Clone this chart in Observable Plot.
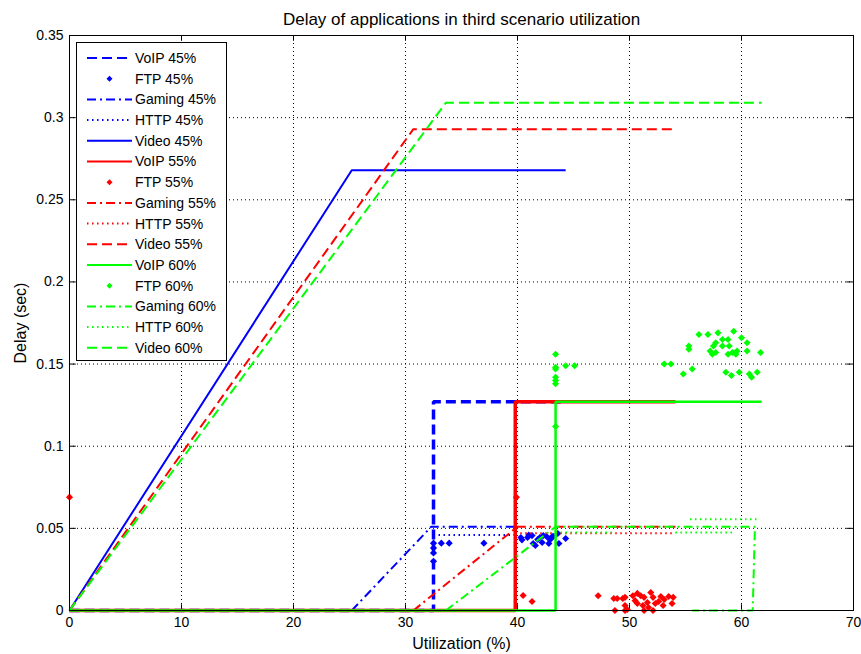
<!DOCTYPE html>
<html><head><meta charset="utf-8">
<script src="https://cdn.jsdelivr.net/npm/d3@7"></script>
<script src="https://cdn.jsdelivr.net/npm/@observablehq/plot@0.6"></script>
<style>
body{margin:0;background:#fff;font-family:"Liberation Sans",Arial,sans-serif;}
#chart svg{display:block;}
</style></head><body>
<div id="chart"></div>
<script>
// ---------- data ----------
const titleText = "Delay of applications in third scenario utilization";
const xLabel = "Utilization (%)";
const yLabel = "Delay (sec)";
const xTicks = [0, 10, 20, 30, 40, 50, 60, 70];
const yTicks = [0, 0.05, 0.1, 0.15, 0.2, 0.25, 0.3, 0.35];
const seriesNames = ["VoIP 45%","FTP 45%","Gaming 45%","HTTP 45%","Video 45%",
                     "VoIP 55%","FTP 55%","Gaming 55%","HTTP 55%","Video 55%",
                     "VoIP 60%","FTP 60%","Gaming 60%","HTTP 60%","Video 60%"];

const voip45X = [0, 32.5, 32.5, 44.3];
const voip45Y = [0, 0, 0.127, 0.127];
const ftp45X = [32.5, 32.5, 32.5, 32.5, 33.2, 33.9, 37.0, 40.3, 40.4, 40.9, 41.0, 41.3, 41.4, 41.6, 41.8, 42.0, 42.2, 42.3, 42.6, 42.8, 42.9, 43.1, 43.2, 43.6, 43.7, 44.3];
const ftp45Y = [0.041, 0.038, 0.035, 0.030, 0.041, 0.041, 0.041, 0.0444, 0.043, 0.0444, 0.046, 0.0456, 0.0408, 0.0396, 0.0432, 0.0444, 0.0414, 0.0456, 0.045, 0.0408, 0.043, 0.045, 0.045, 0.0469, 0.0408, 0.0438];
const gaming45X = [25.2, 32.3, 39.9];
const gaming45Y = [0, 0.051, 0.051];
const http45X = [32.5, 40.0];
const http45Y = [0.046, 0.046];
const video45X = [0, 25.2, 44.3];
const video45Y = [0, 0.268, 0.268];

const voip55X = [0, 39.8, 39.8, 54.1];
const voip55Y = [0, 0, 0.127, 0.127];
const ftp55X = [0, 39.9, 40.5, 41.3, 47.2, 48.6, 48.7, 48.9, 49.4, 49.6, 49.6, 49.6, 49.8, 50.3, 50.5, 50.7, 50.7, 51.0, 51.2, 51.3, 51.3, 51.6, 51.7, 51.9, 52.1, 52.1, 52.3, 52.6, 52.8, 53.0, 53.1, 53.5, 53.8, 53.9];
const ftp55Y = [0.069, 0.069, 0.0091, 0.0055, 0.009, 0.0073, 0, 0.0073, 0.0073, 0.008, 0.003, 0, 0.0006, 0.009, 0.006, 0.0104, 0.0043, 0.009, 0.003, 0.008, 0, 0.0049, 0.0018, 0.011, 0.008, 0, 0.0043, 0.0055, 0.0085, 0.003, 0.0067, 0.0085, 0.0043, 0.008];
const gaming55X = [30.7, 40.0, 54.1];
const gaming55Y = [0, 0.051, 0.051];
const http55X = [39.8, 54.1];
const http55Y = [0.047, 0.047];
const video55X = [0, 30.7, 54.1];
const video55Y = [0, 0.293, 0.293];

const voip60X = [0, 43.4, 43.4, 61.8];
const voip60Y = [0, 0, 0.127, 0.127];
const ftp60X = [43.4, 43.4, 43.4, 43.4, 43.4, 43.4, 43.4, 44.3, 45.1, 53.1, 53.7, 54.8, 55.6, 55.3, 55.3, 56.2, 57.0, 57.9, 57.7, 57.5, 58.3, 58.8, 59.3, 58.3, 58.9, 57.2, 57.4, 57.7, 58.8, 59.2, 59.6, 59.5, 60.0, 60.5, 60.5, 61.7, 58.6, 59.1, 59.8, 60.7, 60.9, 61.4];
const ftp60Y = [0.156, 0.148, 0.147, 0.142, 0.140, 0.138, 0.112, 0.149, 0.149, 0.150, 0.150, 0.144, 0.147, 0.161, 0.159, 0.168, 0.168, 0.169, 0.163, 0.161, 0.165, 0.165, 0.170, 0.161, 0.161, 0.158, 0.156, 0.157, 0.156, 0.157, 0.158, 0.156, 0.166, 0.163, 0.158, 0.157, 0.145, 0.143, 0.145, 0.144, 0.142, 0.145];
const gaming60X = [33.6, 43.4, 61.2, 61.0, 55.6];
const gaming60Y = [0, 0.051, 0.051, 0, 0];
const http60X = [43.4, 48.5, NaN, 54.1, 59.2, NaN, 55.4, 61.5];
const http60Y = [0.0475, 0.0475, NaN, 0.0475, 0.0475, NaN, 0.0555, 0.0555];
const video60X = [0, 33.6, 61.8];
const video60Y = [0, 0.309, 0.309];

// ---------- styles ----------
const BLUE = "#0000ff", RED = "#ff0000", GREEN = "#00ff00";
const DASH = "10,5", DASHDOT = "9,4,2,4", DOT = "1.5,3.5";
const toRows = (xs, ys) => xs.map((x, i) => ({x, y: Number.isNaN(ys[i]) ? undefined : ys[i]}));

const series = [
  {name: seriesNames[0],  kind: "line", xs: voip45X,   ys: voip45Y,   color: BLUE,  dash: DASH,    w: 3.5},
  {name: seriesNames[1],  kind: "dot",  xs: ftp45X,    ys: ftp45Y,    color: BLUE},
  {name: seriesNames[2],  kind: "line", xs: gaming45X, ys: gaming45Y, color: BLUE,  dash: DASHDOT, w: 2},
  {name: seriesNames[3],  kind: "line", xs: http45X,   ys: http45Y,   color: BLUE,  dash: DOT,     w: 2},
  {name: seriesNames[4],  kind: "line", xs: video45X,  ys: video45Y,  color: BLUE,  dash: null,    w: 2},
  {name: seriesNames[5],  kind: "line", xs: voip55X,   ys: voip55Y,   color: RED,   dash: null,    w: 3.5},
  {name: seriesNames[6],  kind: "dot",  xs: ftp55X,    ys: ftp55Y,    color: RED},
  {name: seriesNames[7],  kind: "line", xs: gaming55X, ys: gaming55Y, color: RED,   dash: DASHDOT, w: 2},
  {name: seriesNames[8],  kind: "line", xs: http55X,   ys: http55Y,   color: RED,   dash: DOT,     w: 2},
  {name: seriesNames[9],  kind: "line", xs: video55X,  ys: video55Y,  color: RED,   dash: DASH,    w: 2},
  {name: seriesNames[10], kind: "line", xs: voip60X,   ys: voip60Y,   color: GREEN, dash: null,    w: 2.5},
  {name: seriesNames[11], kind: "dot",  xs: ftp60X,    ys: ftp60Y,    color: GREEN},
  {name: seriesNames[12], kind: "line", xs: gaming60X, ys: gaming60Y, color: GREEN, dash: DASHDOT, w: 2},
  {name: seriesNames[13], kind: "line", xs: http60X,   ys: http60Y,   color: GREEN, dash: DOT,     w: 2},
  {name: seriesNames[14], kind: "line", xs: video60X,  ys: video60Y,  color: GREEN, dash: DASH,    w: 2}
];

const seriesMarks = series.map(s => s.kind === "line"
  ? Plot.line(toRows(s.xs, s.ys), {x: "x", y: "y", stroke: s.color, strokeWidth: s.w,
      strokeDasharray: s.dash || undefined, strokeLinejoin: "miter", strokeLinecap: "butt"})
  : Plot.dot(toRows(s.xs, s.ys), {x: "x", y: "y", symbol: "diamond2", r: 3.2, fill: s.color, stroke: null}));

const FONT = "Liberation Sans, Arial, sans-serif";
const chart = Plot.plot({
  width: 861, height: 654,
  marginLeft: 69, marginRight: 8, marginTop: 35, marginBottom: 44,
  style: {fontFamily: FONT, fontSize: "14px", color: "#000", background: "#fff"},
  x: {domain: [0, 70]},
  y: {domain: [0, 0.35]},
  marks: [
    Plot.gridX(xTicks, {stroke: "#000", strokeOpacity: 1, strokeDasharray: "1,3", strokeWidth: 1}),
    Plot.gridY(yTicks, {stroke: "#000", strokeOpacity: 1, strokeDasharray: "1,3", strokeWidth: 1}),
    Plot.ruleX(xTicks, {x: d => d, y1: 0, y2: 0.0035, stroke: "#000"}),
    Plot.ruleX(xTicks, {x: d => d, y1: 0.35, y2: 0.3465, stroke: "#000"}),
    Plot.ruleY(yTicks, {y: d => d, x1: 0, x2: 0.6, stroke: "#000"}),
    Plot.ruleY(yTicks, {y: d => d, x1: 70, x2: 69.4, stroke: "#000"}),
    Plot.axisX({ticks: xTicks, tickSize: 0, tickPadding: 7, tickFormat: d => String(d), label: null, fontSize: 14}),
    Plot.axisY({ticks: yTicks, tickSize: 0, tickPadding: 6, tickFormat: d => String(+d.toFixed(2)), label: null, fontSize: 14}),
    ...seriesMarks,
    Plot.frame({stroke: "#000", strokeWidth: 1}),
    Plot.text([titleText], {frameAnchor: "top", dy: -16, lineAnchor: "middle", textAnchor: "middle", text: d => d, fontSize: 17}),
    Plot.text([xLabel], {frameAnchor: "bottom", dy: 33, lineAnchor: "middle", textAnchor: "middle", text: d => d, fontSize: 16}),
    Plot.text([yLabel], {frameAnchor: "left", dx: -49, rotate: -90, lineAnchor: "middle", textAnchor: "middle", text: d => d, fontSize: 16})
  ]
});
document.getElementById("chart").appendChild(chart);

// ---------- legend (inside the axes, upper left) ----------
const svg = d3.select(chart);
const lg = svg.append("g").attr("font-family", FONT).attr("font-size", 14).attr("text-anchor", "start");
const lx = 76.5, ly = 42.5, lw = 150, lh = 318, step = 20.7;
lg.append("rect").attr("x", lx).attr("y", ly).attr("width", lw).attr("height", lh)
  .attr("fill", "#fff").attr("stroke", "#000").attr("stroke-width", 1);
series.forEach((s, i) => {
  const cy = 58 + step * i;
  if (s.kind === "line") {
    lg.append("line").attr("x1", 87).attr("x2", 132).attr("y1", cy).attr("y2", cy)
      .attr("stroke", s.color).attr("stroke-width", 2)
      .attr("stroke-dasharray", s.dash || null);
  } else {
    lg.append("path").attr("d", "M0,-3L3,0L0,3L-3,0Z")
      .attr("transform", `translate(109.5,${cy})`).attr("fill", s.color);
  }
  lg.append("text").attr("x", 135).attr("y", cy).attr("dy", "0.35em")
    .attr("text-anchor", "start").attr("fill", "#000").text(s.name);
});
</script>
</body></html>
